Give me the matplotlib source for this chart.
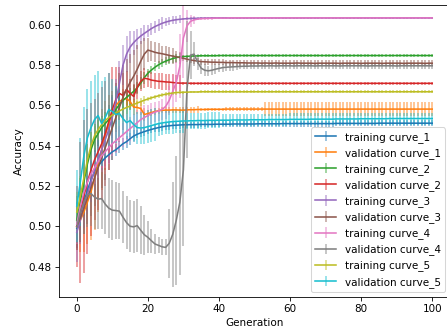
import numpy as np
import matplotlib
matplotlib.use('Agg')
import matplotlib.pyplot as plt
from matplotlib.colors import to_rgba

generation = np.arange(101)

labels = ['training curve_1', 'validation curve_1', 'training curve_2', 'validation curve_2',
          'training curve_3', 'validation curve_3', 'training curve_4', 'validation curve_4',
          'training curve_5', 'validation curve_5']

# mean accuracy per generation
train_1 = [0.4990, 0.5060, 0.5120, 0.5180, 0.5230, 0.5270, 0.5300, 0.5320, 0.5340, 0.5355,
           0.5370, 0.5380, 0.5395, 0.5410, 0.5420, 0.5435, 0.5448, 0.5457, 0.5464, 0.5470,
           0.5476, 0.5481, 0.5486, 0.5490, 0.5494, 0.5497, 0.5499, 0.5501, 0.5502, 0.5503,
           0.5504, 0.5504, 0.5505, 0.5505, 0.5505, 0.5506, 0.5506, 0.5506, 0.5506, 0.5507,
           0.5507, 0.5507, 0.5507, 0.5507, 0.5508, 0.5508, 0.5508, 0.5508, 0.5508, 0.5508,
           0.5508, 0.5509, 0.5509, 0.5509, 0.5509, 0.5509, 0.5509, 0.5509, 0.5510, 0.5510,
           0.5510, 0.5510, 0.5510, 0.5510, 0.5510, 0.5510, 0.5510, 0.5510, 0.5510, 0.5510,
           0.5510, 0.5510, 0.5510, 0.5511, 0.5511, 0.5511, 0.5511, 0.5511, 0.5511, 0.5511,
           0.5511, 0.5511, 0.5511, 0.5511, 0.5511, 0.5512, 0.5512, 0.5512, 0.5512, 0.5512,
           0.5512, 0.5512, 0.5512, 0.5512, 0.5512, 0.5512, 0.5512, 0.5512, 0.5512, 0.5512,
           0.5512]
val_1 = [0.5000, 0.5030, 0.5070, 0.5120, 0.5170, 0.5240, 0.5310, 0.5380, 0.5450, 0.5510,
         0.5560, 0.5600, 0.5620, 0.5630, 0.5635, 0.5620, 0.5592, 0.5590, 0.5585, 0.5555,
         0.5560, 0.5565, 0.5570, 0.5574, 0.5576, 0.5577, 0.5577, 0.5578, 0.5578, 0.5577,
         0.5577, 0.5578, 0.5579, 0.5579, 0.5580, 0.5580, 0.5580, 0.5581, 0.5581, 0.5581,
         0.5581, 0.5581, 0.5582, 0.5582, 0.5582, 0.5582, 0.5582, 0.5582, 0.5582, 0.5582,
         0.5582, 0.5582, 0.5582, 0.5582, 0.5582, 0.5582, 0.5582, 0.5582, 0.5582, 0.5582,
         0.5582, 0.5582, 0.5582, 0.5582, 0.5582, 0.5582, 0.5582, 0.5582, 0.5582, 0.5582,
         0.5582, 0.5582, 0.5582, 0.5582, 0.5582, 0.5582, 0.5582, 0.5582, 0.5582, 0.5582,
         0.5582, 0.5582, 0.5582, 0.5582, 0.5582, 0.5582, 0.5582, 0.5582, 0.5582, 0.5582,
         0.5582, 0.5582, 0.5582, 0.5582, 0.5582, 0.5582, 0.5582, 0.5582, 0.5582, 0.5582,
         0.5582]
train_2 = [0.5030, 0.5120, 0.5220, 0.5310, 0.5380, 0.5430, 0.5460, 0.5490, 0.5510, 0.5530,
           0.5550, 0.5580, 0.5605, 0.5625, 0.5640, 0.5655, 0.5670, 0.5688, 0.5712, 0.5738,
           0.5760, 0.5776, 0.5790, 0.5802, 0.5812, 0.5820, 0.5827, 0.5833, 0.5838, 0.5841,
           0.5843, 0.5844, 0.5845, 0.5846, 0.5846, 0.5847, 0.5847, 0.5847, 0.5847, 0.5847,
           0.5848, 0.5848, 0.5848, 0.5848, 0.5848, 0.5848, 0.5848, 0.5848, 0.5848, 0.5848,
           0.5848, 0.5848, 0.5848, 0.5848, 0.5848, 0.5848, 0.5848, 0.5848, 0.5848, 0.5848,
           0.5848, 0.5848, 0.5848, 0.5848, 0.5848, 0.5848, 0.5848, 0.5848, 0.5848, 0.5848,
           0.5848, 0.5848, 0.5848, 0.5848, 0.5848, 0.5848, 0.5848, 0.5848, 0.5848, 0.5848,
           0.5848, 0.5848, 0.5848, 0.5848, 0.5848, 0.5848, 0.5848, 0.5848, 0.5848, 0.5848,
           0.5848, 0.5848, 0.5848, 0.5848, 0.5848, 0.5848, 0.5848, 0.5848, 0.5848, 0.5848,
           0.5848]
val_2 = [0.5000, 0.5070, 0.5150, 0.5220, 0.5280, 0.5330, 0.5370, 0.5410, 0.5460, 0.5520,
         0.5580, 0.5630, 0.5660, 0.5650, 0.5680, 0.5660, 0.5645, 0.5690, 0.5720, 0.5735,
         0.5732, 0.5726, 0.5723, 0.5720, 0.5719, 0.5717, 0.5716, 0.5714, 0.5712, 0.5711,
         0.5711, 0.5711, 0.5710, 0.5710, 0.5710, 0.5710, 0.5710, 0.5710, 0.5710, 0.5710,
         0.5710, 0.5710, 0.5710, 0.5710, 0.5710, 0.5710, 0.5710, 0.5710, 0.5710, 0.5710,
         0.5710, 0.5710, 0.5710, 0.5710, 0.5710, 0.5710, 0.5710, 0.5710, 0.5710, 0.5710,
         0.5710, 0.5710, 0.5710, 0.5710, 0.5710, 0.5710, 0.5710, 0.5710, 0.5710, 0.5710,
         0.5710, 0.5710, 0.5710, 0.5710, 0.5710, 0.5710, 0.5710, 0.5710, 0.5710, 0.5710,
         0.5710, 0.5710, 0.5710, 0.5710, 0.5710, 0.5710, 0.5710, 0.5710, 0.5710, 0.5710,
         0.5710, 0.5710, 0.5710, 0.5710, 0.5710, 0.5710, 0.5710, 0.5710, 0.5710, 0.5710,
         0.5710]
train_3 = [0.4970, 0.5030, 0.5100, 0.5160, 0.5220, 0.5280, 0.5330, 0.5380, 0.5430, 0.5480,
           0.5540, 0.5620, 0.5710, 0.5800, 0.5855, 0.5890, 0.5912, 0.5930, 0.5945, 0.5958,
           0.5970, 0.5982, 0.5992, 0.6000, 0.6008, 0.6014, 0.6019, 0.6023, 0.6026, 0.6028,
           0.6030, 0.6031, 0.6032, 0.6033, 0.6033, 0.6034, 0.6034, 0.6034, 0.6035, 0.6035,
           0.6035, 0.6035, 0.6035, 0.6035, 0.6035, 0.6035, 0.6035, 0.6035, 0.6035, 0.6035,
           0.6035, 0.6035, 0.6035, 0.6035, 0.6035, 0.6035, 0.6035, 0.6035, 0.6035, 0.6035,
           0.6035, 0.6035, 0.6035, 0.6035, 0.6035, 0.6035, 0.6035, 0.6035, 0.6035, 0.6035,
           0.6035, 0.6035, 0.6035, 0.6035, 0.6035, 0.6035, 0.6035, 0.6035, 0.6035, 0.6035,
           0.6035, 0.6035, 0.6035, 0.6035, 0.6035, 0.6035, 0.6035, 0.6035, 0.6035, 0.6035,
           0.6035, 0.6035, 0.6035, 0.6035, 0.6035, 0.6035, 0.6035, 0.6035, 0.6035, 0.6035,
           0.6035]
val_3 = [0.5000, 0.5040, 0.5090, 0.5140, 0.5190, 0.5240, 0.5290, 0.5340, 0.5390, 0.5440,
         0.5490, 0.5540, 0.5590, 0.5640, 0.5680, 0.5715, 0.5745, 0.5780, 0.5820, 0.5855,
         0.5875, 0.5870, 0.5864, 0.5860, 0.5857, 0.5853, 0.5849, 0.5845, 0.5842, 0.5838,
         0.5834, 0.5830, 0.5826, 0.5823, 0.5820, 0.5818, 0.5817, 0.5816, 0.5815, 0.5815,
         0.5814, 0.5814, 0.5813, 0.5813, 0.5813, 0.5812, 0.5812, 0.5812, 0.5811, 0.5811,
         0.5811, 0.5811, 0.5810, 0.5811, 0.5810, 0.5810, 0.5811, 0.5810, 0.5810, 0.5810,
         0.5810, 0.5810, 0.5811, 0.5810, 0.5810, 0.5810, 0.5810, 0.5809, 0.5810, 0.5810,
         0.5810, 0.5810, 0.5810, 0.5810, 0.5809, 0.5810, 0.5810, 0.5810, 0.5810, 0.5810,
         0.5809, 0.5810, 0.5810, 0.5810, 0.5810, 0.5810, 0.5809, 0.5810, 0.5810, 0.5810,
         0.5810, 0.5810, 0.5809, 0.5810, 0.5810, 0.5810, 0.5810, 0.5810, 0.5809, 0.5810,
         0.5810]
train_4 = [0.5010, 0.5100, 0.5170, 0.5220, 0.5260, 0.5290, 0.5320, 0.5350, 0.5370, 0.5390,
           0.5410, 0.5425, 0.5440, 0.5455, 0.5470, 0.5485, 0.5500, 0.5515, 0.5530, 0.5540,
           0.5550, 0.5560, 0.5567, 0.5573, 0.5580, 0.5595, 0.5625, 0.5670, 0.5715, 0.5795,
           0.5935, 0.5995, 0.6018, 0.6025, 0.6029, 0.6031, 0.6032, 0.6033, 0.6033, 0.6034,
           0.6034, 0.6034, 0.6034, 0.6035, 0.6035, 0.6035, 0.6035, 0.6035, 0.6035, 0.6035,
           0.6035, 0.6035, 0.6035, 0.6035, 0.6035, 0.6035, 0.6035, 0.6035, 0.6035, 0.6035,
           0.6035, 0.6035, 0.6035, 0.6035, 0.6035, 0.6035, 0.6035, 0.6035, 0.6035, 0.6035,
           0.6035, 0.6035, 0.6035, 0.6035, 0.6035, 0.6035, 0.6035, 0.6035, 0.6035, 0.6035,
           0.6035, 0.6035, 0.6035, 0.6035, 0.6035, 0.6035, 0.6035, 0.6035, 0.6035, 0.6035,
           0.6035, 0.6035, 0.6035, 0.6035, 0.6035, 0.6035, 0.6035, 0.6035, 0.6035, 0.6035,
           0.6035]
val_4 = [0.4995, 0.5070, 0.5120, 0.5155, 0.5162, 0.5145, 0.5135, 0.5137, 0.5110, 0.5090,
         0.5080, 0.5078, 0.5075, 0.5045, 0.5018, 0.5000, 0.4997, 0.5003, 0.4980, 0.4958,
         0.4945, 0.4928, 0.4912, 0.4905, 0.4898, 0.4895, 0.4915, 0.4960, 0.5030, 0.5120,
         0.5280, 0.5680, 0.5850, 0.5855, 0.5815, 0.5785, 0.5775, 0.5772, 0.5775, 0.5780,
         0.5784, 0.5788, 0.5790, 0.5791, 0.5792, 0.5793, 0.5794, 0.5795, 0.5795, 0.5796,
         0.5796, 0.5796, 0.5797, 0.5796, 0.5797, 0.5797, 0.5796, 0.5797, 0.5797, 0.5797,
         0.5797, 0.5796, 0.5797, 0.5797, 0.5797, 0.5797, 0.5797, 0.5796, 0.5797, 0.5797,
         0.5797, 0.5797, 0.5797, 0.5797, 0.5796, 0.5797, 0.5797, 0.5797, 0.5797, 0.5797,
         0.5797, 0.5797, 0.5796, 0.5797, 0.5797, 0.5797, 0.5797, 0.5797, 0.5797, 0.5797,
         0.5796, 0.5797, 0.5797, 0.5797, 0.5797, 0.5797, 0.5797, 0.5797, 0.5797, 0.5797,
         0.5797]
train_5 = [0.5070, 0.5150, 0.5240, 0.5330, 0.5400, 0.5450, 0.5480, 0.5505, 0.5525, 0.5540,
           0.5552, 0.5563, 0.5573, 0.5582, 0.5590, 0.5597, 0.5605, 0.5612, 0.5619, 0.5626,
           0.5632, 0.5638, 0.5643, 0.5648, 0.5652, 0.5656, 0.5659, 0.5662, 0.5664, 0.5665,
           0.5666, 0.5666, 0.5667, 0.5667, 0.5667, 0.5668, 0.5668, 0.5668, 0.5668, 0.5668,
           0.5668, 0.5668, 0.5668, 0.5668, 0.5668, 0.5668, 0.5668, 0.5668, 0.5668, 0.5668,
           0.5668, 0.5668, 0.5668, 0.5668, 0.5668, 0.5668, 0.5668, 0.5668, 0.5668, 0.5668,
           0.5668, 0.5668, 0.5668, 0.5668, 0.5668, 0.5668, 0.5668, 0.5668, 0.5668, 0.5668,
           0.5668, 0.5668, 0.5668, 0.5668, 0.5668, 0.5668, 0.5668, 0.5668, 0.5668, 0.5668,
           0.5668, 0.5668, 0.5668, 0.5668, 0.5668, 0.5668, 0.5668, 0.5668, 0.5668, 0.5668,
           0.5668, 0.5668, 0.5668, 0.5668, 0.5668, 0.5668, 0.5668, 0.5668, 0.5668, 0.5668,
           0.5668]
val_5 = [0.5100, 0.5220, 0.5350, 0.5440, 0.5490, 0.5530, 0.5550, 0.5510, 0.5540, 0.5580,
         0.5570, 0.5555, 0.5560, 0.5535, 0.5515, 0.5525, 0.5505, 0.5490, 0.5488, 0.5490,
         0.5495, 0.5500, 0.5505, 0.5510, 0.5513, 0.5516, 0.5518, 0.5520, 0.5521, 0.5522,
         0.5523, 0.5523, 0.5524, 0.5524, 0.5525, 0.5525, 0.5525, 0.5526, 0.5526, 0.5526,
         0.5527, 0.5527, 0.5527, 0.5527, 0.5528, 0.5528, 0.5528, 0.5528, 0.5528, 0.5529,
         0.5529, 0.5529, 0.5529, 0.5529, 0.5530, 0.5530, 0.5530, 0.5530, 0.5530, 0.5530,
         0.5531, 0.5531, 0.5531, 0.5531, 0.5531, 0.5531, 0.5532, 0.5532, 0.5532, 0.5532,
         0.5532, 0.5532, 0.5532, 0.5533, 0.5533, 0.5533, 0.5533, 0.5533, 0.5533, 0.5533,
         0.5534, 0.5534, 0.5534, 0.5534, 0.5534, 0.5534, 0.5534, 0.5534, 0.5535, 0.5535,
         0.5535, 0.5535, 0.5535, 0.5535, 0.5535, 0.5535, 0.5535, 0.5535, 0.5535, 0.5535,
         0.5535]

# spread (error bar half length) per generation
err_train_1 = [0.010, 0.008, 0.007, 0.006, 0.006, 0.005, 0.005, 0.004, 0.004, 0.004,
               0.004, 0.003, 0.003, 0.003, 0.003, 0.003, 0.003, 0.002, 0.002, 0.002,
               0.002, 0.002, 0.002, 0.002, 0.002, 0.002, 0.002, 0.002, 0.002, 0.002,
               0.0015, 0.0015, 0.0015, 0.0015, 0.0015, 0.0015, 0.0015, 0.0015, 0.0015, 0.0015,
               0.0015, 0.0015, 0.0015, 0.0015, 0.0015, 0.0015, 0.0015, 0.0015, 0.0015, 0.0015,
               0.0015, 0.0015, 0.0015, 0.0015, 0.0015, 0.0015, 0.0015, 0.0015, 0.0015, 0.0015,
               0.0015, 0.0015, 0.0015, 0.0015, 0.0015, 0.0015, 0.0015, 0.0015, 0.0015, 0.0015,
               0.0015, 0.0015, 0.0015, 0.0015, 0.0015, 0.0015, 0.0015, 0.0015, 0.0015, 0.0015,
               0.0015, 0.0015, 0.0015, 0.0015, 0.0015, 0.0015, 0.0015, 0.0015, 0.0015, 0.0015,
               0.0015, 0.0015, 0.0015, 0.0015, 0.0015, 0.0015, 0.0015, 0.0015, 0.0015, 0.0015,
               0.0015]
err_val_1 = [0.012, 0.016, 0.020, 0.021, 0.024, 0.026, 0.024, 0.020, 0.017, 0.014,
             0.011, 0.008, 0.006, 0.005, 0.004, 0.004, 0.004, 0.003, 0.003, 0.003,
             0.0015, 0.0015, 0.0015, 0.0015, 0.0015, 0.0015, 0.0015, 0.0015, 0.0015, 0.0015,
             0.0015, 0.0015, 0.0015, 0.0015, 0.0015, 0.0008, 0.0008, 0.0008, 0.0008, 0.0008,
             0.0008, 0.0008, 0.0008, 0.0008, 0.0008, 0.0008, 0.0008, 0.0008, 0.0008, 0.0008,
             0.0008, 0.0008, 0.0008, 0.0035, 0.0035, 0.0035, 0.0035, 0.0035, 0.0035, 0.0035,
             0.0035, 0.0035, 0.0035, 0.0035, 0.0035, 0.0035, 0.0035, 0.0035, 0.0035, 0.0035,
             0.0035, 0.0035, 0.0035, 0.0035, 0.0035, 0.0035, 0.0035, 0.0035, 0.0035, 0.0035,
             0.0035, 0.0035, 0.0035, 0.0035, 0.0035, 0.0035, 0.0035, 0.0035, 0.0035, 0.0035,
             0.0035, 0.0035, 0.0035, 0.0035, 0.0035, 0.0035, 0.0035, 0.0035, 0.0035, 0.0035,
             0.0035]
err_train_2 = [0.012, 0.012, 0.011, 0.010, 0.009, 0.008, 0.007, 0.006, 0.006, 0.005,
               0.004, 0.004, 0.004, 0.004, 0.004, 0.003, 0.003, 0.003, 0.003, 0.003,
               0.002, 0.002, 0.002, 0.002, 0.002, 0.002, 0.002, 0.002, 0.002, 0.002,
               0.0007, 0.0007, 0.0007, 0.0007, 0.0007, 0.0007, 0.0007, 0.0007, 0.0007, 0.0007,
               0.0007, 0.0007, 0.0007, 0.0007, 0.0007, 0.0007, 0.0007, 0.0007, 0.0007, 0.0007,
               0.0007, 0.0007, 0.0007, 0.0007, 0.0007, 0.0007, 0.0007, 0.0007, 0.0007, 0.0007,
               0.0007, 0.0007, 0.0007, 0.0007, 0.0007, 0.0007, 0.0007, 0.0007, 0.0007, 0.0007,
               0.0007, 0.0007, 0.0007, 0.0007, 0.0007, 0.0007, 0.0007, 0.0007, 0.0007, 0.0007,
               0.0007, 0.0007, 0.0007, 0.0007, 0.0007, 0.0007, 0.0007, 0.0007, 0.0007, 0.0007,
               0.0007, 0.0007, 0.0007, 0.0007, 0.0007, 0.0007, 0.0007, 0.0007, 0.0007, 0.0007,
               0.0007]
err_val_2 = [0.020, 0.035, 0.038, 0.036, 0.033, 0.030, 0.029, 0.028, 0.026, 0.024,
             0.021, 0.016, 0.013, 0.011, 0.009, 0.007, 0.006, 0.006, 0.005, 0.005,
             0.004, 0.004, 0.004, 0.004, 0.004, 0.004, 0.004, 0.004, 0.004, 0.004,
             0.0008, 0.0008, 0.0008, 0.0008, 0.0008, 0.0008, 0.0008, 0.0008, 0.0008, 0.0008,
             0.0008, 0.0008, 0.0008, 0.0008, 0.0008, 0.0008, 0.0008, 0.0008, 0.0008, 0.0008,
             0.0008, 0.0008, 0.0008, 0.0008, 0.0008, 0.0008, 0.0008, 0.0008, 0.0008, 0.0008,
             0.0008, 0.0008, 0.0008, 0.0008, 0.0008, 0.0008, 0.0008, 0.0008, 0.0008, 0.0008,
             0.0008, 0.0008, 0.0008, 0.0008, 0.0008, 0.0008, 0.0008, 0.0008, 0.0008, 0.0008,
             0.0008, 0.0008, 0.0008, 0.0008, 0.0008, 0.0008, 0.0008, 0.0008, 0.0008, 0.0008,
             0.0008, 0.0008, 0.0008, 0.0008, 0.0008, 0.0008, 0.0008, 0.0008, 0.0008, 0.0008,
             0.0008]
err_train_3 = [0.015, 0.012, 0.011, 0.010, 0.010, 0.010, 0.010, 0.010, 0.010, 0.010,
               0.010, 0.011, 0.011, 0.010, 0.009, 0.008, 0.006, 0.005, 0.004, 0.004,
               0.003, 0.003, 0.003, 0.003, 0.003, 0.002, 0.002, 0.002, 0.002, 0.002,
               0.0006, 0.0006, 0.0006, 0.0006, 0.0006, 0.0006, 0.0006, 0.0006, 0.0006, 0.0006,
               0.0006, 0.0006, 0.0006, 0.0006, 0.0006, 0.0006, 0.0006, 0.0006, 0.0006, 0.0006,
               0.0006, 0.0006, 0.0006, 0.0006, 0.0006, 0.0006, 0.0006, 0.0006, 0.0006, 0.0006,
               0.0006, 0.0006, 0.0006, 0.0006, 0.0006, 0.0006, 0.0006, 0.0006, 0.0006, 0.0006,
               0.0006, 0.0006, 0.0006, 0.0006, 0.0006, 0.0006, 0.0006, 0.0006, 0.0006, 0.0006,
               0.0006, 0.0006, 0.0006, 0.0006, 0.0006, 0.0006, 0.0006, 0.0006, 0.0006, 0.0006,
               0.0006, 0.0006, 0.0006, 0.0006, 0.0006, 0.0006, 0.0006, 0.0006, 0.0006, 0.0006,
               0.0006]
err_val_3 = [0.012, 0.012, 0.013, 0.013, 0.014, 0.014, 0.015, 0.015, 0.016, 0.016,
             0.016, 0.017, 0.017, 0.016, 0.015, 0.014, 0.013, 0.012, 0.010, 0.008,
             0.006, 0.005, 0.005, 0.005, 0.004, 0.004, 0.004, 0.004, 0.003, 0.003,
             0.0015, 0.0015, 0.0015, 0.0015, 0.0015, 0.0015, 0.0015, 0.0015, 0.0015, 0.0015,
             0.0015, 0.0015, 0.0015, 0.0015, 0.0015, 0.0015, 0.0015, 0.0015, 0.0015, 0.0015,
             0.0015, 0.0015, 0.0015, 0.0015, 0.0015, 0.0015, 0.0015, 0.0015, 0.0015, 0.0015,
             0.0015, 0.0015, 0.0015, 0.0015, 0.0015, 0.0015, 0.0015, 0.0015, 0.0015, 0.0015,
             0.0015, 0.0015, 0.0015, 0.0015, 0.0015, 0.0015, 0.0015, 0.0015, 0.0015, 0.0015,
             0.0015, 0.0015, 0.0015, 0.0015, 0.0015, 0.0015, 0.0015, 0.0015, 0.0015, 0.0015,
             0.0015, 0.0015, 0.0015, 0.0015, 0.0015, 0.0015, 0.0015, 0.0015, 0.0015, 0.0015,
             0.0015]
err_train_4 = [0.010, 0.008, 0.008, 0.008, 0.008, 0.008, 0.008, 0.008, 0.008, 0.008,
               0.006, 0.006, 0.006, 0.006, 0.006, 0.006, 0.006, 0.006, 0.006, 0.006,
               0.005, 0.005, 0.005, 0.005, 0.005, 0.006, 0.007, 0.008, 0.010, 0.016,
               0.020, 0.008, 0.003, 0.002, 0.0006, 0.0006, 0.0006, 0.0006, 0.0006, 0.0006,
               0.0006, 0.0006, 0.0006, 0.0006, 0.0006, 0.0006, 0.0006, 0.0006, 0.0006, 0.0006,
               0.0006, 0.0006, 0.0006, 0.0006, 0.0006, 0.0006, 0.0006, 0.0006, 0.0006, 0.0006,
               0.0006, 0.0006, 0.0006, 0.0006, 0.0006, 0.0006, 0.0006, 0.0006, 0.0006, 0.0006,
               0.0006, 0.0006, 0.0006, 0.0006, 0.0006, 0.0006, 0.0006, 0.0006, 0.0006, 0.0006,
               0.0006, 0.0006, 0.0006, 0.0006, 0.0006, 0.0006, 0.0006, 0.0006, 0.0006, 0.0006,
               0.0006, 0.0006, 0.0006, 0.0006, 0.0006, 0.0006, 0.0006, 0.0006, 0.0006, 0.0006,
               0.0006]
err_val_4 = [0.008, 0.014, 0.016, 0.016, 0.016, 0.016, 0.015, 0.015, 0.015, 0.015,
             0.015, 0.014, 0.014, 0.013, 0.013, 0.013, 0.013, 0.013, 0.012, 0.010,
             0.008, 0.006, 0.005, 0.004, 0.004, 0.004, 0.017, 0.026, 0.032, 0.036,
             0.038, 0.034, 0.012, 0.006, 0.004, 0.003, 0.003, 0.0025, 0.0025, 0.0025,
             0.002, 0.002, 0.002, 0.002, 0.002, 0.0015, 0.0015, 0.0015, 0.0015, 0.0015,
             0.0015, 0.0015, 0.0015, 0.0015, 0.0015, 0.0015, 0.0015, 0.0015, 0.0015, 0.0015,
             0.0015, 0.0015, 0.0015, 0.0015, 0.0015, 0.0015, 0.0015, 0.0015, 0.0015, 0.0015,
             0.0015, 0.0015, 0.0015, 0.0015, 0.0015, 0.0015, 0.0015, 0.0015, 0.0015, 0.0015,
             0.0015, 0.0015, 0.0015, 0.0015, 0.0015, 0.0015, 0.0015, 0.0015, 0.0015, 0.0015,
             0.0015, 0.0015, 0.0015, 0.0015, 0.0015, 0.0015, 0.0015, 0.0015, 0.0015, 0.0015,
             0.0015]
err_train_5 = [0.010, 0.010, 0.009, 0.008, 0.007, 0.006, 0.005, 0.004, 0.004, 0.003,
               0.003, 0.003, 0.003, 0.003, 0.003, 0.002, 0.002, 0.002, 0.002, 0.002,
               0.001, 0.001, 0.001, 0.001, 0.001, 0.001, 0.001, 0.001, 0.001, 0.001,
               0.0007, 0.0007, 0.0007, 0.0007, 0.0007, 0.0007, 0.0007, 0.0007, 0.0007, 0.0007,
               0.0007, 0.0007, 0.0007, 0.0007, 0.0007, 0.0007, 0.0007, 0.0007, 0.0007, 0.0007,
               0.0007, 0.0007, 0.0007, 0.0007, 0.0007, 0.0007, 0.0007, 0.0007, 0.0007, 0.0007,
               0.0007, 0.0007, 0.0007, 0.0007, 0.0007, 0.0007, 0.0007, 0.0007, 0.0007, 0.0007,
               0.0007, 0.0007, 0.0007, 0.0007, 0.0007, 0.0007, 0.0007, 0.0007, 0.0007, 0.0007,
               0.0007, 0.0007, 0.0007, 0.0007, 0.0007, 0.0007, 0.0007, 0.0007, 0.0007, 0.0007,
               0.0007, 0.0007, 0.0007, 0.0007, 0.0007, 0.0007, 0.0007, 0.0007, 0.0007, 0.0007,
               0.0007]
err_val_5 = [0.018, 0.022, 0.024, 0.024, 0.023, 0.022, 0.022, 0.021, 0.020, 0.018,
             0.016, 0.014, 0.012, 0.008, 0.008, 0.008, 0.008, 0.008, 0.008, 0.008,
             0.008, 0.008, 0.008, 0.006, 0.006, 0.006, 0.006, 0.006, 0.006, 0.006,
             0.006, 0.004, 0.004, 0.004, 0.004, 0.004, 0.004, 0.004, 0.004, 0.004,
             0.004, 0.003, 0.003, 0.003, 0.003, 0.003, 0.003, 0.003, 0.003, 0.003,
             0.003, 0.003, 0.003, 0.003, 0.003, 0.003, 0.003, 0.003, 0.003, 0.003,
             0.003, 0.003, 0.003, 0.003, 0.003, 0.003, 0.003, 0.003, 0.003, 0.003,
             0.003, 0.003, 0.003, 0.003, 0.003, 0.003, 0.003, 0.003, 0.003, 0.003,
             0.003, 0.003, 0.003, 0.003, 0.003, 0.003, 0.003, 0.003, 0.003, 0.003,
             0.003, 0.003, 0.003, 0.003, 0.003, 0.003, 0.003, 0.003, 0.003, 0.003,
             0.003]

means = [train_1, val_1, train_2, val_2, train_3, val_3, train_4, val_4, train_5, val_5]
errs = [err_train_1, err_val_1, err_train_2, err_val_2, err_train_3, err_val_3,
        err_train_4, err_val_4, err_train_5, err_val_5]

colors = plt.rcParams['axes.prop_cycle'].by_key()['color']

fig = plt.figure(figsize=(5.96, 4.4534), dpi=75)
ax = fig.add_axes([0.132, 0.111, 0.8747, 0.874])

for i in range(len(labels)):
    c = colors[i % len(colors)]
    ax.errorbar(generation, means[i], yerr=errs[i], color=c,
                ecolor=to_rgba(c, 0.55), label=labels[i])

ax.set_xlim(-5, 105)
ax.set_ylim(0.4649, 0.6099)
ax.set_xlabel('Generation')
ax.set_ylabel('Accuracy')
ax.legend(loc='lower right')

fig.savefig('out.png', dpi=75)
